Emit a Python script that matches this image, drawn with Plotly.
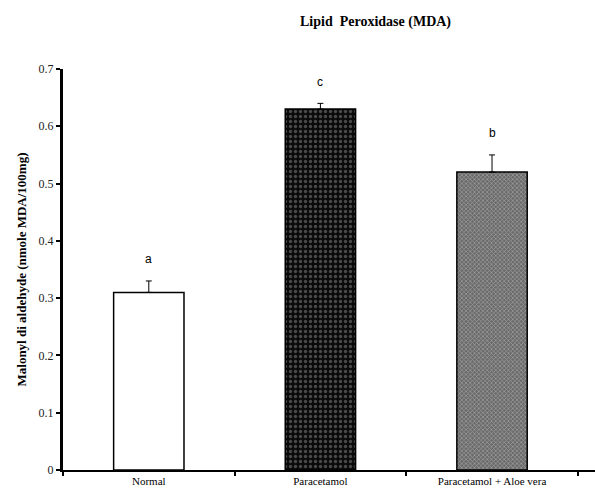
import plotly.graph_objects as go

categories = ["Normal", "Paracetamol", "Paracetamol + Aloe vera"]
values = [0.31, 0.63, 0.52]
errors = [0.02, 0.01, 0.03]
letters = ["a", "c", "b"]
ytick_vals = [0, 0.1, 0.2, 0.3, 0.4, 0.5, 0.6, 0.7]
ytick_text = ["0", "0.1", "0.2", "0.3", "0.4", "0.5", "0.6", "0.7"]

bar_colors = ["white", "black", "#555555"]
patterns = [
    dict(shape=""),
    dict(shape=".", fgcolor="#8a8a8a", bgcolor="#0a0a0a", size=5, solidity=0.35),
    dict(shape="x", fgcolor="#d8d8d8", bgcolor="#6a6a6a", size=3, solidity=0.4),
]

fig = go.Figure()
for c, v, e, col, p in zip(categories, values, errors, bar_colors, patterns):
    fig.add_trace(go.Bar(
        x=[c], y=[v], width=0.41,
        marker=dict(color=col, line=dict(color="black", width=1.5), pattern=p),
        error_y=dict(type="data", array=[e], arrayminus=[0], symmetric=False,
                     color="black", thickness=1, width=3),
        showlegend=False,
    ))

for c, v, e, t in zip(categories, values, errors, letters):
    fig.add_annotation(x=c, y=v + e + 0.022, text=t, showarrow=False,
                       yanchor="bottom", font=dict(family="Arial", size=12, color="black"))

fig.add_annotation(x=(375 - 63) / (595 - 63), y=1 + (69 - 22) / (495 - 69 - 25),
                   xref="paper", yref="paper", text="<b>Lipid  Peroxidase (MDA)</b>",
                   xanchor="center", yanchor="middle",
                   showarrow=False, font=dict(family="Liberation Serif", size=14, color="black"))

fig.update_layout(
    width=595, height=495,
    margin=dict(l=63, r=0, t=69, b=25),
    plot_bgcolor="white", paper_bgcolor="white",
    xaxis=dict(
        type="category", categoryorder="array", categoryarray=categories,
        range=[-0.5, 2.6], tickson="boundaries",
        showline=True, linecolor="black", linewidth=2,
        ticks="outside", ticklen=4, tickwidth=2, tickcolor="black",
        tickfont=dict(family="Liberation Serif", size=11, color="black"),
        showgrid=False, zeroline=False,
    ),
    yaxis=dict(
        range=[0, 0.7], tickvals=ytick_vals, ticktext=ytick_text,
        showline=True, linecolor="black", linewidth=3,
        ticks="outside", ticklen=4, tickwidth=2, tickcolor="black",
        tickfont=dict(family="Liberation Serif", size=12, color="#222222"),
        showgrid=False, zeroline=False,
        title=dict(text="<b>Malonyl di aldehyde (nmole MDA/100mg)</b>",
                   font=dict(family="Liberation Serif", size=13, color="black"), standoff=10),
    ),
)

fig.write_html("out.html")
